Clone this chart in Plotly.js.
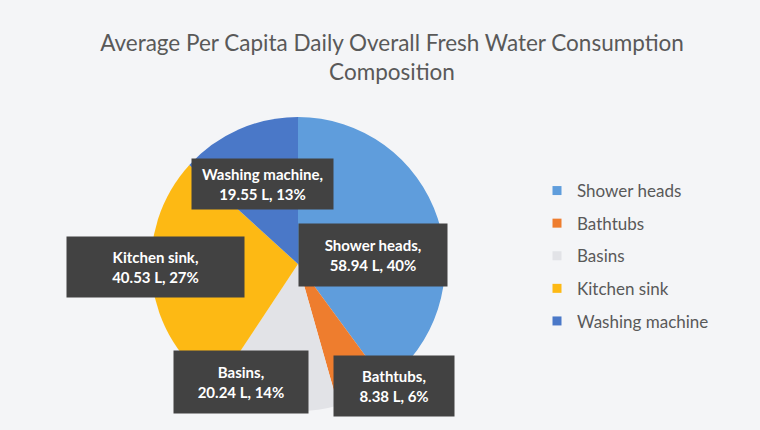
<!DOCTYPE html>
<html>
<head>
<meta charset="utf-8">
<script src="https://cdn.plot.ly/plotly-3.0.1.min.js"></script>
<style>html,body{margin:0;padding:0;background:#f4f5f7;}#chart{width:760px;height:430px;}</style>
</head>
<body>
<div id="chart"></div>
<script>
const categories = ["Shower heads", "Bathtubs", "Basins", "Kitchen sink", "Washing machine"];
const litres = [58.94, 8.38, 20.24, 40.53, 19.55];
const percents = [40, 6, 14, 27, 13];
const colors = ["#5f9ddc", "#ee7d2e", "#e2e3e7", "#fdb914", "#4a78c8"];

const W = 760, H = 430;
// label box centres (pixels) and sizes
const boxPos = [
  {cx: 373, cy: 255, w: 146, h: 60},
  {cx: 394, cy: 386, w: 118, h: 58},
  {cx: 241, cy: 382, w: 132, h: 60},
  {cx: 155, cy: 267, w: 175, h: 58},
  {cx: 262, cy: 184, w: 139, h: 48}
];

const pie = {
  type: "pie",
  labels: categories,
  values: litres,
  sort: false,
  direction: "clockwise",
  rotation: 0,
  textinfo: "none",
  hoverinfo: "label+value+percent",
  marker: {colors: colors, line: {width: 0}},
  showlegend: false,
  domain: {x: [298/W - 147/W, 298/W + 147/W], y: [1 - 411/H, 1 - 117/H]}
};

const legendTraces = categories.map((c, i) => ({
  type: "scatter",
  mode: "markers",
  x: [null], y: [null],
  name: c,
  legendgroup: "g" + i,
  marker: {symbol: "square", size: 9, color: colors[i]},
  hoverinfo: "skip"
}));

const annotations = categories.map((c, i) => ({
  xref: "paper", yref: "paper",
  x: boxPos[i].cx / W, y: 1 - boxPos[i].cy / H,
  xanchor: "center", yanchor: "middle",
  text: "<b>" + c + ",<br>" + litres[i].toFixed(2) + " L, " + percents[i] + "%</b>",
  showarrow: false,
  bgcolor: "#424242",
  width: boxPos[i].w, height: boxPos[i].h,
  align: "center", valign: "middle",
  font: {family: "Lato, 'Open Sans', sans-serif", size: 15, color: "#ffffff"}
}));

const layout = {
  width: W, height: H,
  margin: {l: 0, r: 0, t: 0, b: 0},
  paper_bgcolor: "#f4f5f7",
  plot_bgcolor: "rgba(0,0,0,0)",
  title: {
    text: "Average Per Capita Daily Overall Fresh Water Consumption<br>Composition",
    x: 392/W, xanchor: "center", y: 1 - 51/H, yanchor: "top",
    font: {family: "Lato, 'Open Sans', sans-serif", size: 22.5, color: "#595959"}
  },
  xaxis: {visible: false}, yaxis: {visible: false},
  showlegend: true,
  legend: {
    x: 537/W, xanchor: "left", y: 1 - 173/H, yanchor: "top",
    bgcolor: "rgba(0,0,0,0)",
    traceorder: "grouped", tracegroupgap: 7.5,
    itemwidth: 30,
    font: {family: "Lato, 'Open Sans', sans-serif", size: 17, color: "#595959"}
  },
  annotations: annotations
};

Plotly.newPlot("chart", [pie].concat(legendTraces), layout, {displayModeBar: false, staticPlot: false});
</script>
</body>
</html>
